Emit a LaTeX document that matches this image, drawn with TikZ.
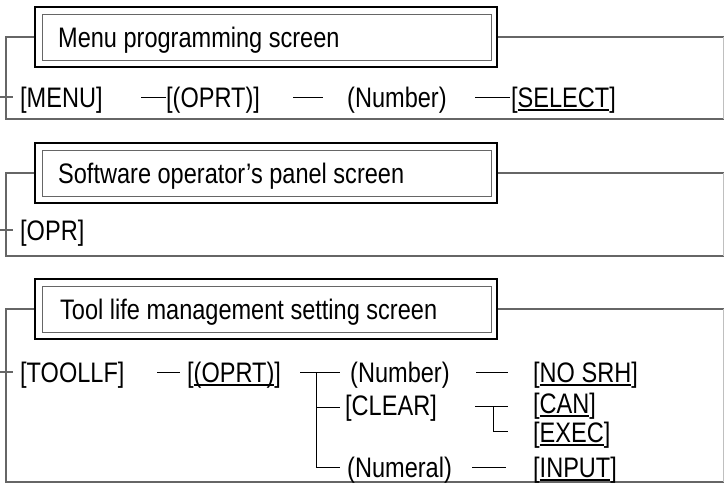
\documentclass[tikz,border=0pt]{standalone}
\usepackage{fontspec}
\setmainfont{Liberation Sans}[FakeStretch=0.835]
\newsavebox\ulbox
\newcommand\ulk[1]{\sbox\ulbox{#1}\rlap{\rule[-4pt]{\wd\ulbox}{1.8pt}}\usebox\ulbox}
\begin{document}
\begin{tikzpicture}[x=1pt,y=-1pt,
  lbl/.style={anchor=base west, inner sep=0pt, yshift=-10pt, font=\fontsize{28.2}{31}\selectfont},
  frameline/.style={draw=black!60, line width=1.1pt},
  edgeline/.style={draw=black!25, line width=0.8pt},
  conn/.style={draw=black, line width=1pt},
  outerbox/.style={draw=black, line width=1.5pt, inner sep=0pt, minimum width=462pt, minimum height=60pt},
  innerbox/.style={draw=black!60, line width=1pt}]
\useasboundingbox (0,0) rectangle (724,483);

% ---------- Section 1 ----------
\node[outerbox] (box1) at (266,37) {};
\draw[innerbox] (42,14) rectangle (491,60);
\node[lbl] (title1) at (58,37) {Menu programming screen};
\draw[frameline] (box1.west) -- (6,37) -- (6,119) -- (724,119);
\draw[frameline] (box1.east) -- (724,37);
\draw[edgeline] (723.5,37) -- (723.5,119);
\draw[frameline] (0,97) -- (13,97);

\node[lbl] (menu) at (20,97) {[MENU]};
\node[lbl] (oprtA) at (166,97) {[(OPRT)]};
\node[lbl] (numA) at (347,97) {(Number)};
\node[lbl] (select) at (511,97) {[\ulk{SELECT}]};
\coordinate (a1) at (141,97); \coordinate (a2) at (166,97);
\coordinate (a3) at (293,97); \coordinate (a4) at (323,97);
\coordinate (a5) at (475,97); \coordinate (a6) at (510,97);
\draw[conn] (a1) -- (a2);
\draw[conn] (a3) -- (a4);
\draw[conn] (a5) -- (a6);

% ---------- Section 2 ----------
\node[outerbox] (box2) at (266,173) {};
\draw[innerbox] (42,150) rectangle (491,196);
\node[lbl] (title2) at (58,173) {Software operator’s panel screen};
\draw[frameline] (box2.west) -- (6,173) -- (6,256) -- (724,256);
\draw[frameline] (box2.east) -- (724,173);
\draw[edgeline] (723.5,173) -- (723.5,256);
\draw[frameline] (0,230) -- (13,230);
\node[lbl] (opr) at (20,230) {[OPR]};

% ---------- Section 3 ----------
\node[outerbox] (box3) at (266,309) {};
\draw[innerbox] (42,286) rectangle (491,332);
\node[lbl] (title3) at (60,309) {Tool life management setting screen};
\draw[frameline] (box3.west) -- (6,309) -- (6,482) -- (724,482);
\draw[frameline] (box3.east) -- (724,309);
\draw[edgeline] (723.5,309) -- (723.5,482);
\draw[frameline] (0,372) -- (13,372);

\node[lbl] (toollf) at (20,372) {[TOOLLF]};
\node[lbl] (oprtB) at (187,372) {[\ulk{(OPRT)}]};
\node[lbl] (numB) at (350,372) {(Number)};
\node[lbl] (nosrh) at (533,372) {[\ulk{NO SRH}]};
\node[lbl] (clear) at (345,405) {[CLEAR]};
\node[lbl] (can) at (533,403) {[\ulk{CAN}]};
\node[lbl] (exec) at (533,432) {[\ulk{EXEC}]};
\node[lbl] (numeral) at (347,467) {(Numeral)};
\node[lbl] (input) at (533,467) {[\ulk{INPUT}]};

\coordinate (b1) at (157,372); \coordinate (b2) at (180,372);
\draw[conn] (b1) -- (b2);
% main tree
\coordinate (t0) at (300,372); \coordinate (t1) at (340,372);
\coordinate (tv) at (316,372); \coordinate (tc) at (316,407);
\coordinate (tn) at (316,467);
\coordinate (tce) at (340,407); \coordinate (tne) at (340,467);
\draw[conn] (t0) -- (t1);
\draw[conn] (tv) -- (tn) -- (tne);
\draw[conn] (tc) -- (tce);
% number -> no srh
\coordinate (c1) at (476,372); \coordinate (c2) at (508,372);
\draw[conn] (c1) -- (c2);
% clear tree
\coordinate (e0) at (475,406); \coordinate (e1) at (508,406);
\coordinate (ev) at (493,406); \coordinate (ex) at (493,431);
\coordinate (exe) at (508,431);
\draw[conn] (e0) -- (e1);
\draw[conn] (ev) -- (ex) -- (exe);
% numeral -> input
\coordinate (f1) at (472,467); \coordinate (f2) at (506,467);
\draw[conn] (f1) -- (f2);
\end{tikzpicture}
\end{document}
